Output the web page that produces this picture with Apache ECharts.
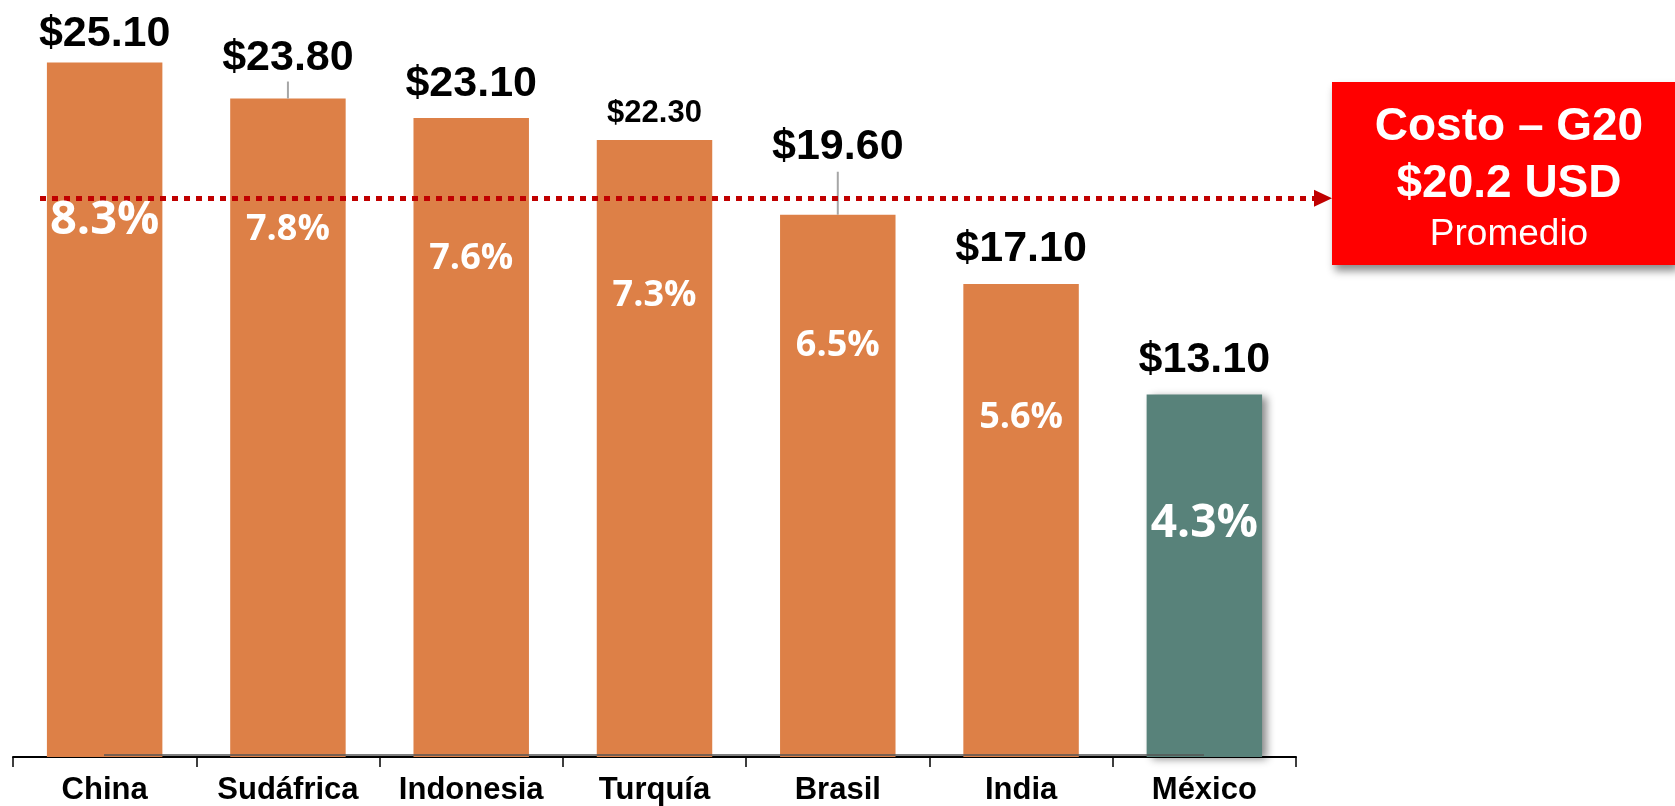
<!DOCTYPE html>
<html>
<head>
<meta charset="utf-8">
<script src="https://cdn.jsdelivr.net/npm/echarts@6/dist/echarts.min.js"></script>
<style>html,body{margin:0;padding:0;background:#fff}#c{width:1675px;height:806px}</style>
</head>
<body>
<div id="c"></div>
<script>
// ---- data ----
const categories = ['China', 'Sudáfrica', 'Indonesia', 'Turquía', 'Brasil', 'India', 'México'];
const costs = [25.1, 23.8, 23.1, 22.3, 19.6, 17.1, 13.1];
const gdpShares = [8.3, 7.8, 7.6, 7.3, 6.5, 5.6, 4.3];
const g20Average = 20.2;
const boxTitle = 'Costo – G20';
const boxValue = '$20.2 USD';
const boxNote = 'Promedio';
const highlight = 'México';

// ---- styling ----
const ORANGE = '#DD8047';
const TEAL = '#58827A';
const FONT = '"Liberation Sans", Arial, sans-serif';
const SHARE_FONT = '"Open Sans", "Noto Sans", sans-serif';
const costFont = [43, 43, 43, 31, 43, 43, 43];
const costGap = [7, 19, 12, 11, 46, 13, 13];
const leaderLen = [0, 17, 0, 0, 43, 0, 0];
const shareFont = [47, 36, 36, 36, 36, 36, 46];
const shareGap = [135, 113, 123, 138, 113, 116, 106];

const chart = echarts.init(document.getElementById('c'), null, {renderer: 'canvas'});

const mainData = costs.map((v, i) => {
  const isHi = categories[i] === highlight;
  return {
    value: v,
    itemStyle: isHi
      ? {color: TEAL, shadowColor: 'rgba(0,0,0,0.45)', shadowBlur: 8, shadowOffsetX: 5, shadowOffsetY: 2}
      : {color: ORANGE},
    label: {fontSize: costFont[i], distance: costGap[i]}
  };
});

const shareData = costs.map((v, i) => ({
  value: v,
  label: {fontSize: shareFont[i], distance: shareGap[i]}
}));

chart.setOption({
  animation: false,
  grid: {left: 13, right: 379, top: 10, bottom: 47},
  xAxis: {
    type: 'category',
    data: categories,
    boundaryGap: true,
    axisLine: {show: true, lineStyle: {color: '#000', width: 2}},
    axisTick: {show: true, length: 10, lineStyle: {color: '#000', width: 1.5}},
    axisLabel: {color: '#000', fontFamily: FONT, fontWeight: 'bold', fontSize: 31, margin: 18, interval: 0},
    splitLine: {show: false}
  },
  yAxis: {type: 'value', min: 0, max: 27, show: false, splitLine: {show: false}},
  series: [
    {
      type: 'bar',
      data: mainData,
      barWidth: '63%',
      clip: false,
      label: {
        show: true, position: 'top', color: '#000', fontFamily: FONT, fontWeight: 'bold',
        formatter: p => '$' + p.value.toFixed(2)
      },
      markLine: {
        silent: true,
        symbol: ['none', 'triangle'],
        symbolSize: [17, 18],
        label: {show: false},
        lineStyle: {color: '#C00000', width: 5, type: [6, 6]},
        data: [
          [{x: 40, yAxis: g20Average}, {x: 1323, yAxis: g20Average}],
          [{x: 104, yAxis: 0.08, symbol: 'none', lineStyle: {color: '#555', width: 1.5, type: 'solid'}},
           {x: 1204, yAxis: 0.08, symbol: 'none'}]
        ]
      }
    },
    {
      type: 'custom',
      silent: true,
      z: 4,
      data: costs.map((v, i) => [i, v]),
      renderItem: (params, api) => {
        const len = leaderLen[params.dataIndex];
        if (!len) return null;
        const p = api.coord([api.value(0), api.value(1)]);
        return {
          type: 'line',
          shape: {x1: p[0], y1: p[1], x2: p[0], y2: p[1] - len},
          style: {stroke: '#A6A6A6', lineWidth: 2}
        };
      }
    },
    {
      type: 'bar',
      data: shareData,
      barWidth: '63%',
      barGap: '-100%',
      silent: true,
      itemStyle: {color: 'rgba(0,0,0,0)'},
      label: {
        show: true, position: 'insideTop', color: '#fff', fontFamily: SHARE_FONT, fontWeight: 'bold',
        formatter: p => gdpShares[p.dataIndex].toFixed(1) + '%'
      },
      z: 5
    }
  ],
  graphic: [
    {
      type: 'rect', left: 1332, top: 82, z: 100,
      shape: {width: 343, height: 183},
      style: {fill: '#FF0000', shadowBlur: 8, shadowOffsetX: 3, shadowOffsetY: 6, shadowColor: 'rgba(0,0,0,0.45)'}
    },
    {type: 'text', x: 1509, y: 127, z: 101,
     style: {text: boxTitle, fill: '#fff', font: 'bold 46px "Liberation Sans", Arial, sans-serif', textAlign: 'center', textVerticalAlign: 'middle'}},
    {type: 'text', x: 1509, y: 184, z: 101,
     style: {text: boxValue, fill: '#fff', font: 'bold 46px "Liberation Sans", Arial, sans-serif', textAlign: 'center', textVerticalAlign: 'middle'}},
    {type: 'text', x: 1509, y: 235, z: 101,
     style: {text: boxNote, fill: '#fff', font: '37px "Liberation Sans", Arial, sans-serif', textAlign: 'center', textVerticalAlign: 'middle'}}
  ]
});
</script>
</body>
</html>
